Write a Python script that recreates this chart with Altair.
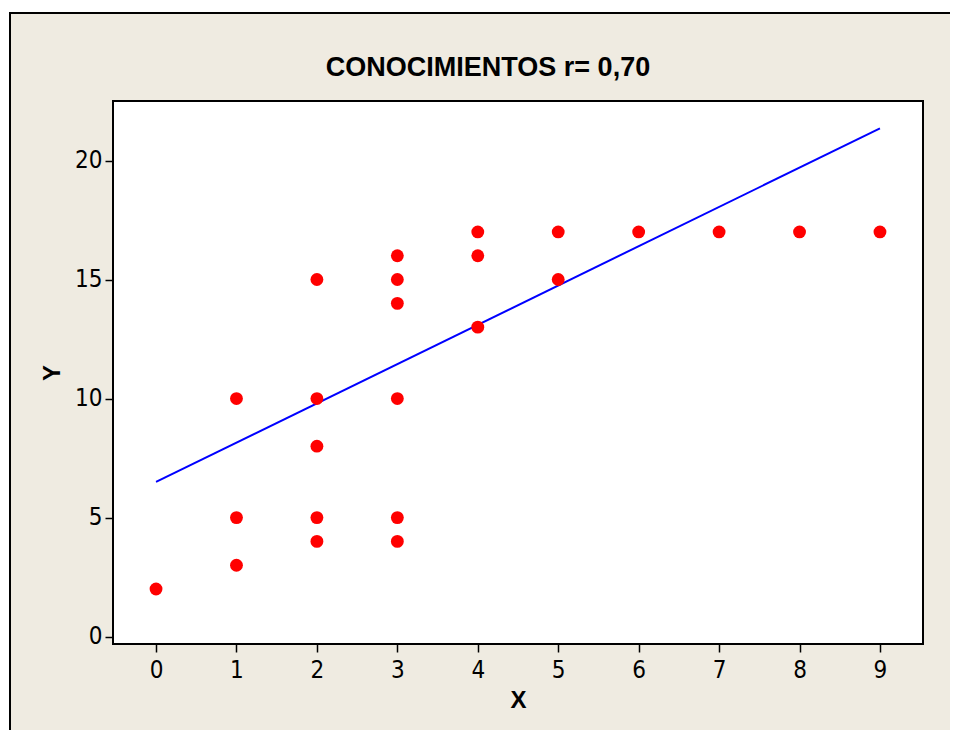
import altair as alt
import pandas as pd

# Data
x_vals = [0, 1, 1, 1, 2, 2, 2, 2, 2, 3, 3, 3, 3, 3, 3, 4, 4, 4, 5, 5, 6, 7, 8, 9]
y_vals = [2, 10, 5, 3, 15, 10, 8, 5, 4, 16, 15, 14, 10, 5, 4, 17, 16, 13, 17, 15, 17, 17, 17, 17]
fit_x = [0, 9]
fit_y = [6.5, 21.35]
x_ticks = [0, 1, 2, 3, 4, 5, 6, 7, 8, 9]
y_ticks = [0, 5, 10, 15, 20]
title_text = "CONOCIMIENTOS r= 0,70"

W, H = 810, 543
BEIGE = "#EFEBE1"
LABEL_FONT = "Liberation Sans Narrow, DejaVu Sans Condensed, Liberation Sans"
BOLD_FONT = "Liberation Sans, Arial, sans-serif"

pts = pd.DataFrame({"X": x_vals, "Y": y_vals})
fit = pd.DataFrame({"X": fit_x, "Y": fit_y})
one = pd.DataFrame({"a": [0]})

xscale = alt.Scale(domain=[-0.535, 9.535], nice=False, zero=False)
yscale = alt.Scale(domain=[-0.31, 22.5], nice=False, zero=False)

xaxis = alt.Axis(
    values=x_ticks, title="X", grid=False, domain=False, zindex=1,
    tickSize=8, tickColor="black", tickWidth=1.5,
    labelFont=LABEL_FONT, labelFontSize=24, labelColor="black", labelPadding=6,
    titleFont=BOLD_FONT, titleFontSize=24, titleFontWeight="bold", titleColor="black",
    titlePadding=6,
)
yaxis = alt.Axis(
    values=y_ticks, title="Y", grid=False, domain=False, zindex=1,
    tickSize=8, tickColor="black", tickWidth=1.5,
    labelFont=LABEL_FONT, labelFontSize=24, labelColor="black", labelPadding=3,
    titleFont=BOLD_FONT, titleFontSize=24, titleFontWeight="bold", titleColor="black",
    titlePadding=10,
)

frame = alt.Chart(one).mark_rect(fill=BEIGE, stroke="black", strokeWidth=2).encode(
    x=alt.value(-103), x2=alt.value(860), y=alt.value(-88), y2=alt.value(660)
)
plotbg = alt.Chart(one).mark_rect(fill="white", stroke="black", strokeWidth=2).encode(
    x=alt.value(0), x2=alt.value(W), y=alt.value(0), y2=alt.value(H)
)
line = alt.Chart(fit).mark_line(color="#0000FF", strokeWidth=2).encode(
    x=alt.X("X:Q", scale=xscale, axis=xaxis),
    y=alt.Y("Y:Q", scale=yscale, axis=yaxis),
)
points = alt.Chart(pts).mark_point(filled=True, shape="circle", size=165, color="#FF0000", opacity=1).encode(
    x=alt.X("X:Q", scale=xscale, axis=xaxis),
    y=alt.Y("Y:Q", scale=yscale, axis=yaxis),
)

chart = alt.layer(frame, plotbg, line, points).properties(
    width=W, height=H,
    title=alt.TitleParams(
        text=title_text, font=BOLD_FONT, fontSize=27, fontWeight="bold", color="black",
        anchor="middle", frame="group", dx=-30, offset=-70, zindex=1,
    ),
    autosize=alt.AutoSizeParams(type="none"),
    padding={"left": 105, "top": 93, "right": 27, "bottom": 86},
    background="white",
).configure_view(stroke=None, fill=None)

chart.save("out.html", embed_options={"renderer": "svg", "actions": False})
